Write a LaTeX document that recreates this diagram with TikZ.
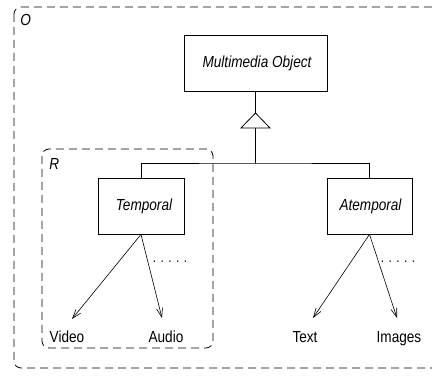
\documentclass[tikz,border=0pt]{standalone}
\usepackage{fontspec}
\setmainfont[FakeStretch=0.85]{Liberation Sans}
\usetikzlibrary{arrows.meta}

\begin{document}
\begin{tikzpicture}[x=1pt,y=-1pt,
  line width=0.8pt,
  classbox/.style={draw, rectangle, minimum height=56pt, inner sep=0pt,
    font=\fontsize{16}{18}\selectfont\itshape},
  region/.style={draw, dash pattern=on 8pt off 5pt, rounded corners=7pt},
  regionlabel/.style={anchor=base west, inner sep=0pt, font=\fontsize{16}{18}\selectfont\itshape},
  leaf/.style={anchor=base, inner sep=0pt, font=\fontsize{16}{18}\selectfont},
  more/.style={anchor=base, inner sep=0pt, font=\fontsize{14}{16}\selectfont},
  arr/.style={line width=0.6pt, -{Straight Barb[length=9pt,width=6pt]}}]
\useasboundingbox (0,0) rectangle (432,379);
\clip (0,0) rectangle (432,379);

% enclosing regions
\draw[region] (14,7) rectangle (442,368);
\node[regionlabel] (lblO) at (20,26) {O};
\draw[region] (42,149) rectangle (213,348);
\node[regionlabel] (lblR) at (49,170) {R};

% classes
\node[classbox, minimum width=143pt] (mm) at (255.5,63.5) {\hspace*{3pt}Multimedia Object};
\node[classbox, minimum width=86pt] (temporal) at (141,206) {\hspace*{6pt}Temporal};
\node[classbox, minimum width=85pt] (atemporal) at (369.5,206) {\hspace*{2pt}Atemporal};

% generalisation triangle and tree
\coordinate (apex) at (255.5,113);
\coordinate (base) at (255.5,128);
\coordinate (bar) at (255.5,163);
\draw (mm.south) -- (apex);
\draw (apex) -- ++(-14.5,15) -- ++(29,0) -- cycle;
\draw (base) -- (bar);
\draw (temporal.north) |- (bar) -| (atemporal.north);

% leaf labels
\node[leaf] (video) at (67,343) {Video};
\node[leaf] (audio) at (166,343) {Audio};
\node[leaf] (text) at (305,343) {Text};
\node[leaf] (images) at (399,343) {Images};
\node[more] (moreT) at (170,263) {. . . . .};
\node[more] (moreA) at (398,263) {. . . . .};

% arrow tips just above the labels
\coordinate (videotip) at (72,319);
\coordinate (audiotip) at (162,318);
\coordinate (texttip) at (313,318);
\coordinate (imagestip) at (397,318);

\draw[arr] (temporal.south) -- (videotip);
\draw[arr] (temporal.south) -- (audiotip);
\draw[arr] (atemporal.south) -- (texttip);
\draw[arr] (atemporal.south) -- (imagestip);
\end{tikzpicture}
\end{document}
